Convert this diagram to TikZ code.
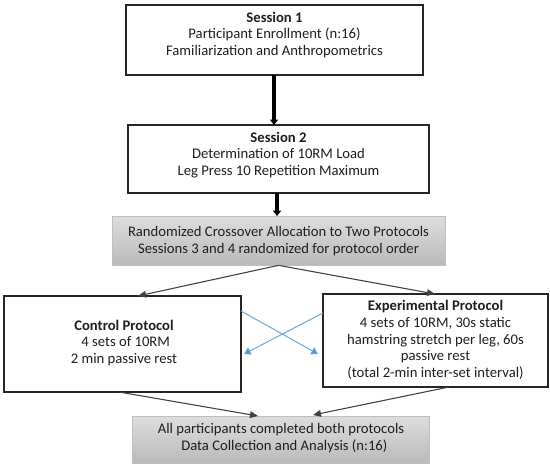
\documentclass[tikz,border=0pt]{standalone}
\usepackage{fontspec}
\setmainfont{Carlito}
\usetikzlibrary{arrows.meta}
\definecolor{lineblue}{HTML}{6FA8DC}
\definecolor{tipblue}{HTML}{4A90D9}
\definecolor{darkline}{HTML}{404040}
\begin{document}
\begin{tikzpicture}[x=0.75pt,y=-0.75pt,
  box/.style={draw=black!85,line width=1.1pt,rectangle,inner sep=0pt},
  graybox/.style={draw=black!25,line width=0.5pt,rectangle,inner sep=0pt,top color=black!13,bottom color=black!27},
  txt/.style={align=center,font=\fontsize{11}{12.6}\selectfont,inner sep=0pt,text=black!88},
  bigarrow/.style={line width=2.6pt,draw=black,-{Triangle[width=6pt,length=4pt]}},
  thinarrow/.style={line width=0.8pt,draw=darkline,-{Triangle[width=5pt,length=6pt]}},
  bluearrow/.style={line width=0.75pt,draw=lineblue,-{Triangle[width=6pt,length=5pt,fill=tipblue]}}]
\useasboundingbox (0,0) rectangle (550,467);
\fill[white] (0,0) rectangle (550,467);
% boxes
\node[box,minimum width=222.75pt,minimum height=52.5pt] (s1) at (274.5,40) {};
\node[box,minimum width=225.75pt,minimum height=51pt] (s2) at (278.5,159) {};
\node[graybox,minimum width=249.75pt,minimum height=36.75pt] (rand) at (278.5,240.5) {};
\node[box,minimum width=177.75pt,minimum height=72pt] (ctrl) at (122.5,344) {};
\node[box,minimum width=168.75pt,minimum height=69.75pt] (exp) at (435.5,340.5) {};
\node[graybox,minimum width=222.75pt,minimum height=35.25pt] (fin) at (280.5,439.5) {};
% texts
\node[txt] (t1) at (274.5,35) {\textbf{Session 1}\\Participant Enrollment (n:16)\\Familiarization and Anthropometrics};
\node[txt] (t2) at (278.5,155) {\textbf{Session 2}\\Determination of 10RM Load\\ Leg Press 10 Repetition Maximum};
\node[txt] (t3) at (278.5,241) {Randomized Crossover Allocation to Two Protocols\\Sessions 3 and 4 randomized for protocol order};
\node[txt] (t4) at (124,343) {\textbf{Control Protocol}\\\hphantom{i}4 sets of 10RM\\2 min passive rest};
\node[txt] (t5) at (435.5,340) {\textbf{Experimental Protocol}\\4 sets of 10RM, 30s static\\hamstring stretch per leg, 60s\\passive rest\\(total 2-min inter-set interval)};
\node[txt] (t6) at (281,438) {All participants completed both protocols\\\hphantom{ii}Data Collection and Analysis (n:16)};
% connector end points
\coordinate (a1s) at (274,75);
\coordinate (a1e) at (274,125);
\coordinate (a2s) at (277,193);
\coordinate (a2e) at (277,216);
\coordinate (c1e) at (138,296);
\coordinate (c2e) at (435,294);
\coordinate (d1s) at (119,392);
\coordinate (d1e) at (258,416);
\coordinate (d2s) at (449,387);
\coordinate (d2e) at (313,415);
\coordinate (b1s) at (241,311);
\coordinate (b1e) at (318,354);
\coordinate (b2s) at (323,313);
\coordinate (b2e) at (244,354);
% connectors
\draw[bigarrow] (a1s) -- (a1e);
\draw[bigarrow] (a2s) -- (a2e);
\draw[thinarrow] (rand.south) -- (c1e);
\draw[thinarrow] (rand.south) -- (c2e);
\draw[bluearrow] (b1s) -- (b1e);
\draw[bluearrow] (b2s) -- (b2e);
\draw[thinarrow] (d1s) -- (d1e);
\draw[thinarrow] (d2s) -- (d2e);
\end{tikzpicture}
\end{document}
